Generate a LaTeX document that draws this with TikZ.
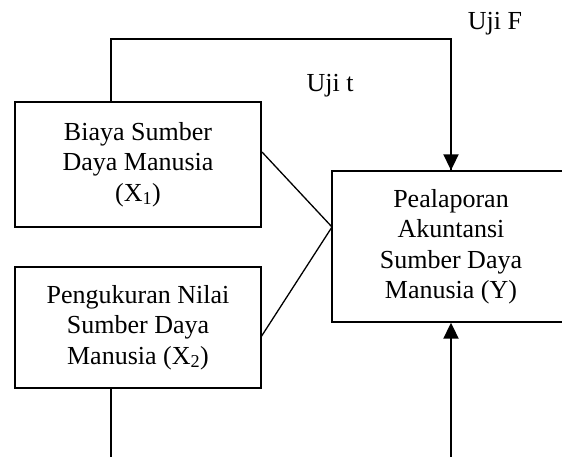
\documentclass[tikz,border=0pt]{standalone}
\usepackage{fontspec}
\setmainfont{Liberation Serif}
\usetikzlibrary{arrows.meta}
\begin{document}
\begin{tikzpicture}[x=1pt,y=-1pt,
  txt/.style={font=\fontsize{26}{30.5}\selectfont, align=center},
  box/.style={draw, line width=1.4pt, txt, inner sep=0pt},
  conn/.style={line width=1.3pt},
  arr/.style={line width=2pt, -{Triangle[length=16pt,width=15pt]}},
  lbl/.style={font=\fontsize{26}{30.5}\selectfont, inner sep=0pt, anchor=base}]
\useasboundingbox (0,0) rectangle (562,457);
\node[box, minimum width=246pt, minimum height=125pt] (x1) at (138,164.5)
  {Biaya Sumber\\Daya Manusia\\(X\textsubscript{1})};
\node[box, minimum width=246pt, minimum height=121pt] (x2) at (138,327.5)
  {Pengukuran Nilai\\Sumber Daya\\Manusia (X\textsubscript{2})};
\node[box, minimum width=238pt, minimum height=151pt] (y) at (451,246.5)
  {Pealaporan\\Akuntansi\\Sumber Daya\\Manusia (Y)};
\node[lbl] (ujif) at (495,30) {Uji F};
\node[lbl] (ujit) at (330,92) {Uji t};
\coordinate (t1) at (111,39);
\coordinate (m) at (332,227);
\coordinate (d1) at (262,152);
\coordinate (d2) at (261,337);
\coordinate (b1) at (111,457);
\coordinate (b2) at (451,457);
\draw[conn] (x1.north -| t1) -- (t1) -| (y.north -| b2);
\draw[arr] (t1 -| b2) -- (y.north);
\draw[conn] (d1) -- (m) -- (d2);
\draw[conn] (x2.south -| b1) -- (b1);
\draw[arr] (b2) -- (y.south);
\end{tikzpicture}
\end{document}
